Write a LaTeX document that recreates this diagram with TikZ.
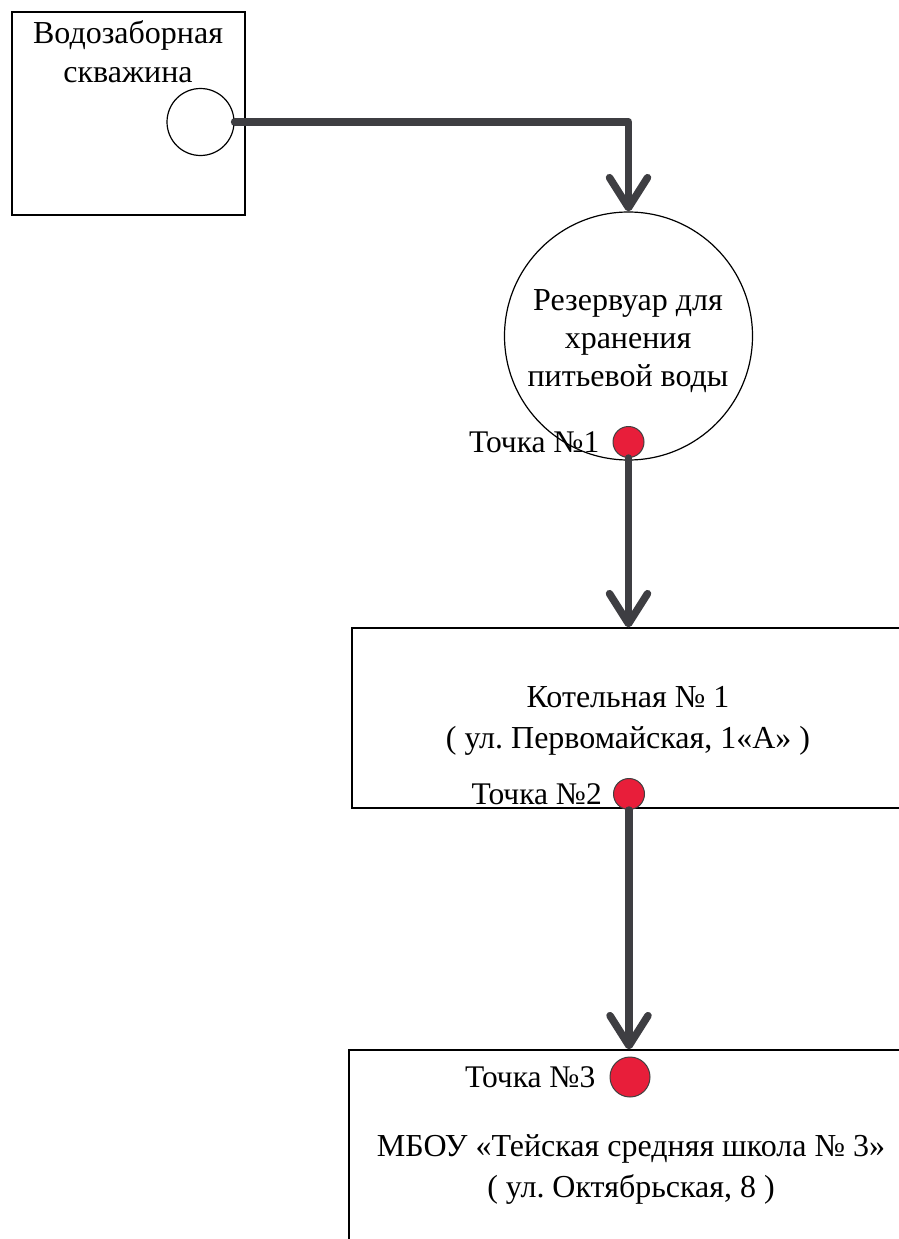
\documentclass[tikz,border=0pt]{standalone}
\usepackage{fontspec}
\setmainfont{Liberation Serif}
\usetikzlibrary{arrows.meta,positioning}
\frenchspacing

\definecolor{pipegray}{RGB}{62,62,66}
\definecolor{pointred}{RGB}{232,30,58}

\tikzset{
  frame/.style={draw,line width=1.2pt,inner sep=0pt},
  pipe/.style={draw=pipegray,line width=7.5pt,line cap=round,line join=round,
    -{Straight Barb[length=30pt,width=38pt,round]}},
  point/.style={circle,draw=black!75,fill=pointred,line width=1pt,inner sep=0pt},
  pointlabel/.style={inner sep=0pt,font=\fontsize{31.5}{36}\selectfont},
  caption/.style={inner sep=0pt,align=center,font=\fontsize{32}{41}\selectfont}
}

\begin{document}
\begin{tikzpicture}[x=1pt,y=-1pt]
  \useasboundingbox (0,0) rectangle (899,1239);
  \fill[white] (0,0) rectangle (899,1239);
  \clip (0,0) rectangle (899,1239);

  \node[frame,minimum width=233pt,minimum height=203pt] (well)   at (128.5,113.5) {};
  \node[frame,circle,minimum size=67pt]                 (spring) at (200.5,122)   {};
  \node[frame,circle,minimum size=248pt]                (tank)   at (628.5,336)   {};
  \node[frame,minimum width=560pt,minimum height=180pt] (boiler) at (632,718)     {};
  \node[frame,minimum width=562pt,minimum height=200pt] (school) at (630,1150)    {};

  \node[caption,font=\fontsize{32}{39}\selectfont]
                 (well text)   at (128,52)   {Водозаборная\\скважина};
  \node[caption,font=\fontsize{32}{38}\selectfont]
                 (tank text)   at (628,341)  {Резервуар для\\хранения\\питьевой воды};
  \node[caption] (boiler text) at (628,721)  {Котельная № 1\\( ул. Первомайская, 1«А» )};
  \node[caption] (school text) at (631,1169) {МБОУ «Тейская средняя школа № 3»\\( ул. Октябрьская, 8 )};

  \node[point,minimum size=31pt] (p1) at (628.5,442) {};
  \node[point,minimum size=31pt] (p2) at (629,794)   {};
  \node[point,minimum size=40pt] (p3) at (630,1077)  {};

  \node[pointlabel,left=13pt of p1] (p1 label) {Точка №1};
  \node[pointlabel,left=11pt of p2] (p2 label) {Точка №2};
  \node[pointlabel,left=14pt of p3] (p3 label) {Точка №3};

  \draw[pipe] (spring.east) -| (tank.north);
  \draw[pipe] (p1.south) -- (p1 |- boiler.north);
  \draw[pipe] (p2.south) -- (p2 |- school.north);
\end{tikzpicture}
\end{document}
